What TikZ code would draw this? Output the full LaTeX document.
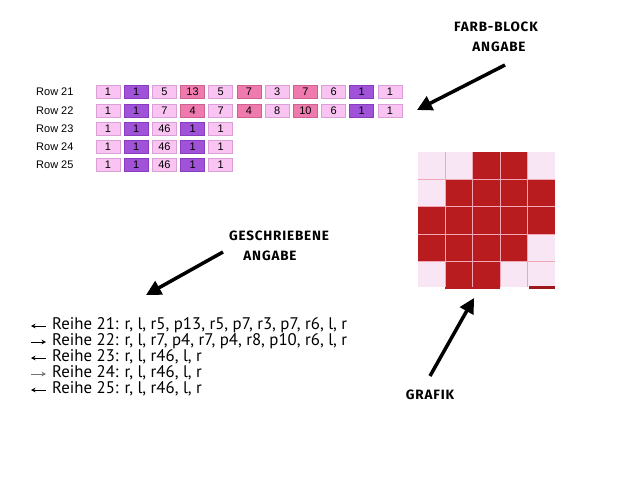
\documentclass[tikz,border=0pt]{standalone}
\usepackage{fontspec}
\setmainfont{Liberation Sans}
\newfontfamily\reihefont{PT Sans}
\newfontfamily\comicfont[LetterSpace=6]{Fira Sans}
\usetikzlibrary{arrows.meta}
\definecolor{cL}{HTML}{F9C4F2}
\definecolor{cLd}{HTML}{D9A0D6}
\definecolor{cP}{HTML}{A052D8}
\definecolor{cPd}{HTML}{8A3CC0}
\definecolor{cK}{HTML}{EE7AAE}
\definecolor{cKd}{HTML}{D0608F}
\definecolor{gLight}{HTML}{F9E6F4}
\definecolor{gRed}{HTML}{B81C1E}
\definecolor{gLine}{HTML}{EFA8B6}
\tikzset{
  cellbase/.style={minimum width=24pt, minimum height=12.5pt, inner sep=0pt, line width=0.7pt, font=\fontsize{11}{11}\selectfont},
  cellL/.style={cellbase, fill=cL, draw=cLd},
  cellP/.style={cellbase, fill=cP, draw=cPd},
  cellK/.style={cellbase, fill=cK, draw=cKd},
  rowlab/.style={anchor=west, inner sep=0pt, font=\fontsize{11}{11}\selectfont},
  comic/.style={inner sep=0pt, font=\comicfont\bfseries\fontsize{13.5}{13.5}\selectfont},
  bigarrow/.style={line width=3.5pt, -{Triangle[length=15pt,width=15pt]}},
  reihe/.style={anchor=west, inner sep=0pt, font=\reihefont\fontsize{16.8}{16.8}\selectfont},
  smallarrow/.style={line width=0.7pt, -{Stealth[length=4.5pt,width=4.5pt]}}
}
\begin{document}
\begin{tikzpicture}[x=1pt,y=-1pt]
\useasboundingbox (0,0) rectangle (640,480);
\fill[white] (0,0) rectangle (640,480);

% ---- colour block table ----
\node[rowlab] (r21) at (36,92) {Row 21};
\node[rowlab] (r22) at (36,111) {Row 22};
\node[rowlab] (r23) at (36,129) {Row 23};
\node[rowlab] (r24) at (36,147) {Row 24};
\node[rowlab] (r25) at (36,165) {Row 25};

\foreach \v/\s [count=\i from 0] in {1/L,1/P,5/L,13/K,5/L,7/K,3/L,7/K,6/L,1/P,1/L}
  \node[cell\s] (ca-\i) at ({108+28.2*\i},92) {\v};
\foreach \v/\s [count=\i from 0] in {1/L,1/P,7/L,4/K,7/L,4/K,8/L,10/K,6/L,1/P,1/L}
  \node[cell\s] (cb-\i) at ({108+28.2*\i},111) {\v};
\foreach \r/\y in {c/129,d/147,e/165}
  \foreach \v/\s [count=\i from 0] in {1/L,1/P,46/L,1/P,1/L}
    \node[cell\s] (c\r-\i) at ({108+28.2*\i},\y) {\v};

% ---- grafik ----
\fill[gLight] (418,152) rectangle (555,287);
\foreach \c/\r in {2/0,3/0, 1/1,2/1,3/1,4/1, 0/2,1/2,2/2,3/2,4/2, 0/3,1/3,2/3,3/3, 1/4,2/4}
  \fill[gRed] ({418+27.4*\c},{152+27.4*\r}) rectangle ++(27.4,27.4);
\foreach \k in {1,2,3,4} {
  \draw[gLine, line width=1.3pt] ({418+27.4*\k},152) -- ({418+27.4*\k},287);
  \draw[gLine, line width=1.3pt] (418,{152+27.4*\k}) -- (555,{152+27.4*\k});
}
\fill[gRed!85!black] (529,286) rectangle (555,289);

% ---- labels and arrows ----
\node[comic] (fb1) at (496,27) {FARB-BLOCK};
\node[comic] (fb2) at (499,47) {ANGABE};
\coordinate (fbt) at (505,65);
\coordinate (fbh) at (417,110);
\draw[bigarrow] (fbt) -- (fbh);

\node[comic] (ga1) at (279,236) {GESCHRIEBENE};
\node[comic] (ga2) at (270,256) {ANGABE};
\coordinate (gat) at (223,252);
\coordinate (gah) at (146,295);
\draw[bigarrow] (gat) -- (gah);

\node[comic] (gr) at (430,395) {GRAFIK};
\coordinate (grt) at (430,376);
\coordinate (grh) at (474,298);
\draw[bigarrow] (grt) -- (grh);

% ---- written instructions ----
\node[reihe] (w1) at (52,325) {Reihe 21: r, l, r5, p13, r5, p7, r3, p7, r6, l, r};
\node[reihe] (w2) at (52,341) {Reihe 22: r, l, r7, p4, r7, p4, r8, p10, r6, l, r};
\node[reihe] (w3) at (52,357) {Reihe 23: r, l, r46, l, r};
\node[reihe] (w4) at (52,373) {Reihe 24: r, l, r46, l, r};
\node[reihe] (w5) at (52,389) {Reihe 25: r, l, r46, l, r};
\coordinate (a1) at (31,326); \coordinate (b1) at (46,326);
\coordinate (a2) at (31,342); \coordinate (b2) at (46,342);
\coordinate (a3) at (31,358); \coordinate (b3) at (46,358);
\coordinate (a4) at (31,374); \coordinate (b4) at (46,374);
\coordinate (a5) at (31,390); \coordinate (b5) at (46,390);
\draw[smallarrow] (b1) -- (a1);
\draw[smallarrow] (a2) -- (b2);
\draw[smallarrow] (b3) -- (a3);
\draw[smallarrow, black!55] (a4) -- (b4);
\draw[smallarrow] (b5) -- (a5);
\end{tikzpicture}
\end{document}
